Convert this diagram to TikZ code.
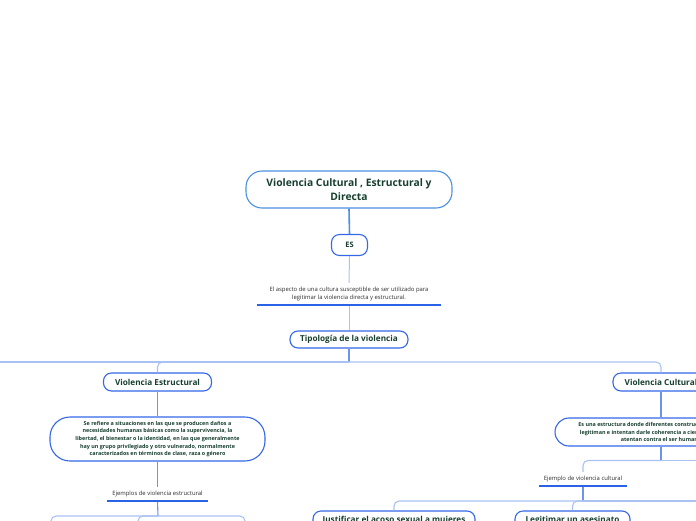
\documentclass[tikz,border=0pt]{standalone}
\usepackage{fontspec}
\setmainfont{Open Sans}
\definecolor{txt}{HTML}{173F2F}
\definecolor{plaintxt}{HTML}{2E2E2E}
\definecolor{rootblue}{HTML}{4A90E2}
\definecolor{nodeblue}{HTML}{3468E8}
\definecolor{stemblue}{HTML}{6C94EA}
\definecolor{lightblue}{HTML}{A9C1F3}
\definecolor{ublue}{HTML}{2A62E8}
\begin{document}
\begin{tikzpicture}[x=1pt,y=-1pt,
  box/.style={draw=nodeblue, line width=1.1pt, fill=white, rounded corners=8pt,
    text=txt, font=\fontsize{8.2}{10}\selectfont\bfseries, inner sep=0pt, align=center},
  descbox/.style={box, font=\fontsize{5.4}{7.6}\selectfont\bfseries},
  plain/.style={text=plaintxt, font=\fontsize{5.9}{8.6}\selectfont, inner sep=0pt, align=center},
  rootconn/.style={draw=rootblue, line width=1.6pt},
  stemc/.style={draw=stemblue, line width=1.1pt},
  thinc/.style={draw=lightblue, line width=1pt},
  bus/.style={draw=lightblue, line width=1.1pt, rounded corners=5pt},
  uline/.style={draw=ublue, line width=1.8pt}
]
\useasboundingbox (0,0) rectangle (696,520);
\clip (0,0) rectangle (696,520);

% coordinates for buses and off-canvas ends
\coordinate (b1) at (349,362);
\coordinate (offL) at (-20,362);
\coordinate (b2) at (158,516);
\coordinate (e1) at (51,535);
\coordinate (e2) at (138,535);
\coordinate (e3) at (245,535);
\coordinate (b3) at (661,460.5);
\coordinate (offR1) at (720,460.5);
\coordinate (b4) at (583,501);
\coordinate (offR2) at (720,501);

% nodes
\node[box, draw=rootblue, minimum width=206pt, minimum height=37pt, rounded corners=16pt,
      font=\fontsize{10.3}{14}\selectfont\bfseries] (root) at (349,189.5)
      {Violencia Cultural , Estructural y\\Directa};
\node[box, minimum width=36pt, minimum height=21pt, font=\fontsize{7.5}{9}\selectfont\bfseries] (es) at (349.5,245) {ES};
\node[plain, minimum width=184pt, minimum height=22pt] (asp) at (349,294)
      {El aspecto de una cultura susceptible de ser utilizado para\\legitimar la violencia directa y estructural.};
\node[box, minimum width=118pt, minimum height=17pt] (tipo) at (349,339.5) {Tipología de la violencia};

\node[box, minimum width=108pt, minimum height=18pt] (est) at (157.5,382) {Violencia Estructural};
\node[descbox, minimum width=215pt, minimum height=44pt, rounded corners=20pt] (estd) at (157.5,439)
      {Se refiere a situaciones en las que se producen daños a\\
       necesidades humanas básicas como la supervivencia, la\\
       libertad, el bienestar o la identidad, en las que generalmente\\
       hay un grupo privilegiado y otro vulnerado, normalmente\\
       caracterizados en términos de clase, raza o género};
\node[plain, minimum width=101pt, minimum height=14pt] (ejE) at (157.5,494) {Ejemplos de violencia estructural};

\node[box, minimum width=96pt, minimum height=18pt] (cult) at (661,382) {Violencia Cultural};
\node[descbox, minimum width=212pt, minimum height=28pt, rounded corners=14pt] (cultd) at (661,432)
      {Es una estructura donde diferentes construcciones culturales\\
       legitiman e intentan darle coherencia a ciertas acciones que\\
       atentan contra el ser humano};
\node[plain, minimum width=88pt, minimum height=14pt] (ejC) at (583,479) {Ejemplo de violencia cultural};
\node[box, minimum width=162pt, minimum height=18pt] (just) at (394,520) {Justificar el acoso sexual a mujeres};
\node[box, minimum width=115pt, minimum height=18pt] (legit) at (572.5,520) {Legitimar un asesinato};

% connectors
\draw[rootconn] (root.south) -- (es.north);
\draw[thinc] (es.south) -- (asp.north);
\draw[thinc] (asp.south) -- (tipo.north);
\draw[stemc] (tipo.south) -- (b1);
\draw[bus] (b1) -| (est.north);
\draw[bus] (b1) -| (cult.north);
\draw[bus] (b1) -- (offL);
\draw[stemc] (est.south) -- (estd.north);
\draw[stemc] (estd.south) -- (ejE.north);
\draw[stemc] (ejE.south) -- (b2);
\draw[bus] (b2) -| (e1);
\draw[bus] (b2) -| (e2);
\draw[bus] (b2) -| (e3);
\draw[stemc] (cult.south) -- (cultd.north);
\draw[stemc] (cultd.south) -- (b3);
\draw[bus] (b3) -| (ejC.north);
\draw[bus] (b3) -- (offR1);
\draw[stemc] (ejC.south) -- (b4);
\draw[bus] (b4) -| (just.north);
\draw[bus] (b4) -| (legit.north);
\draw[bus] (b4) -- (offR2);

% underlines
\draw[uline] (asp.south west) -- (asp.south east);
\draw[uline] (ejE.south west) -- (ejE.south east);
\draw[uline] (ejC.south west) -- (ejC.south east);
\end{tikzpicture}
\end{document}
